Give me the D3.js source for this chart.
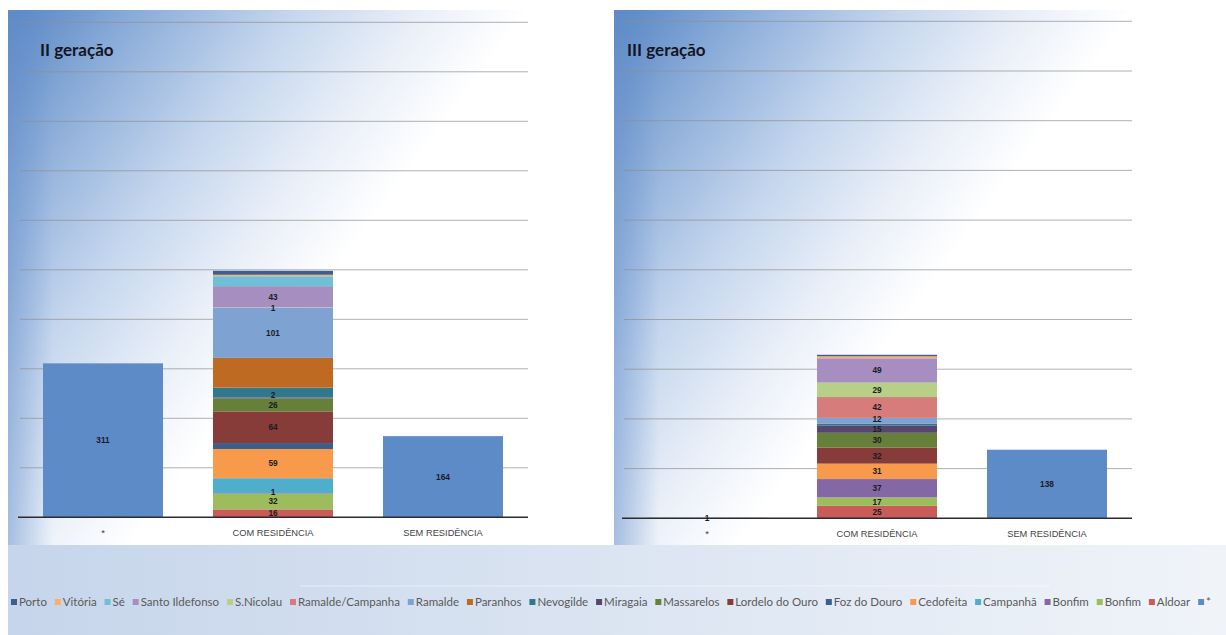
<!DOCTYPE html>
<html>
<head>
<meta charset="utf-8">
<script src="https://cdn.jsdelivr.net/npm/d3@7"></script>
<style>
  html, body { margin: 0; padding: 0; background: #ffffff; }
  svg { display: block; }
</style>
</head>
<body>
<svg id="chart" width="1226" height="635"></svg>
<script>
// ---- data ----
const categories = ["*", "COM RESIDÊNCIA", "SEM RESIDÊNCIA"];

const seriesNames = ["*", "Aldoar", "Bonfim", "Bonfim", "Campanhã", "Cedofeita",
  "Foz do Douro", "Lordelo do Ouro", "Massarelos", "Miragaia", "Nevogilde",
  "Paranhos", "Ramalde", "Ramalde/Campanha", "S.Nicolau", "Santo Ildefonso",
  "Sé", "Vitória", "Porto"];

const seriesColors = ["#5d8bc7", "#c95b58", "#9dbd5c", "#8468a6", "#4faecb", "#f79a4c",
  "#3a5e8e", "#873c3a", "#66803a", "#574770", "#32788a",
  "#bf6a23", "#7ea3d3", "#d67c7a", "#b7cf86", "#a68fc0",
  "#6fc0d6", "#f9ae70", "#3d5f8e"];

// one row per series, one value per category
const gen2Values = [
  [311, 0, 164], [0, 16, 0], [0, 32, 0], [0, 1, 0], [0, 30, 0], [0, 59, 0],
  [0, 12, 0], [0, 64, 0], [0, 26, 0], [0, 2, 0], [0, 20, 0],
  [0, 60, 0], [0, 101, 0], [0, 0, 0], [0, 1, 0], [0, 43, 0],
  [0, 20, 0], [0, 3, 0], [0, 8, 0]
];
const gen3Values = [
  [1, 0, 138], [0, 25, 0], [0, 17, 0], [0, 37, 0], [0, 0, 0], [0, 31, 0],
  [0, 0, 0], [0, 32, 0], [0, 30, 0], [0, 15, 0], [0, 3, 0],
  [0, 0, 0], [0, 12, 0], [0, 42, 0], [0, 29, 0], [0, 49, 0],
  [0, 0, 0], [0, 4, 0], [0, 3, 0]
];

// series whose data labels are switched off
const gen2HiddenLabels = [4, 6, 10, 11, 16, 17, 18];
const gen3HiddenLabels = [10, 17, 18];

const yTicks = [0, 100, 200, 300, 400, 500, 600, 700, 800, 900, 1000];

// ---- drawing ----
const svg = d3.select("#chart");
const defs = svg.append("defs");

function panelBackground(id, x0, y0, w, h) {
  const g = defs.append("linearGradient").attr("id", id)
    .attr("gradientUnits", "userSpaceOnUse")
    .attr("x1", x0).attr("y1", y0).attr("x2", x0 + 430).attr("y2", y0 + 320);
  [[0, "#5685c4"], [0.2, "#8cadd9"], [0.42, "#c3d5ed"], [0.62, "#e9eff8"], [0.78, "#ffffff"]]
    .forEach(([o, c]) => g.append("stop").attr("offset", o).attr("stop-color", c));
  const e = defs.append("linearGradient").attr("id", id + "-edge")
    .attr("gradientUnits", "userSpaceOnUse")
    .attr("x1", x0).attr("y1", 0).attr("x2", x0 + 45).attr("y2", 0);
  e.append("stop").attr("offset", 0).attr("stop-color", "#6690cc").attr("stop-opacity", 0.5);
  e.append("stop").attr("offset", 1).attr("stop-color", "#6690cc").attr("stop-opacity", 0);
  svg.append("rect").attr("x", x0).attr("y", y0).attr("width", w).attr("height", h)
    .attr("fill", `url(#${id})`);
  svg.append("rect").attr("x", x0).attr("y", y0).attr("width", 45).attr("height", h)
    .attr("fill", `url(#${id}-edge)`);
}

function drawChart(cfg) {
  panelBackground(cfg.id, cfg.panelX, 10, cfg.panelW, 535);
  const g = svg.append("g");

  const x = d3.scaleBand().domain(categories).range(cfg.xRange)
    .paddingInner(0.294).paddingOuter(0.147);
  const y = d3.scaleLinear().domain([0, 1000]).range(cfg.yRange);

  // horizontal gridlines
  g.append("g").selectAll("line").data(yTicks.filter(t => t > 0)).join("line")
    .attr("x1", cfg.xRange[0] + 2).attr("x2", cfg.xRange[1])
    .attr("y1", d => y(d)).attr("y2", d => y(d))
    .attr("stroke", "#8f8f8f").attr("stroke-opacity", 0.7).attr("stroke-width", 1);

  // stacked columns
  const rows = categories.map((c, ci) => ({ cat: c, vals: cfg.values.map(s => s[ci]) }));
  const stack = d3.stack().keys(d3.range(seriesNames.length)).value((r, k) => r.vals[k]);
  const layers = stack(rows);

  const layerG = g.append("g").selectAll("g").data(layers).join("g")
    .attr("fill", d => seriesColors[d.key]);
  layerG.selectAll("rect").data(d => d.map(p => ({ p, key: d.key })).filter(o => o.p[1] > o.p[0]))
    .join("rect")
    .attr("x", o => x(o.p.data.cat))
    .attr("width", x.bandwidth())
    .attr("y", o => y(o.p[1]))
    .attr("height", o => y(o.p[0]) - y(o.p[1]));

  // category axis
  const axis = g.append("g").attr("transform", `translate(0,${cfg.yRange[0]})`)
    .call(d3.axisBottom(x).tickSize(0).tickPadding(12));
  axis.select(".domain").attr("stroke", "#2b2b2b").attr("stroke-width", 1.6)
    .attr("d", `M${cfg.xRange[0]},0H${cfg.xRange[1]}`);
  axis.selectAll("text").attr("font-family", "'Liberation Sans', Arial, sans-serif")
    .attr("font-size", 9.3).attr("fill", "#444");

  // data labels, centred in their segment; crowded ones are nudged upward
  const labels = [];
  layers.forEach(layer => {
    if (cfg.hidden.includes(layer.key)) return;
    layer.forEach(p => {
      const v = p[1] - p[0];
      if (v > 0) labels.push({ v, cat: p.data.cat, cx: x(p.data.cat) + x.bandwidth() / 2, cy: y((p[0] + p[1]) / 2) });
    });
  });
  const minGap = 9.6;
  categories.forEach(c => {
    const col = labels.filter(l => l.cat === c).sort((a, b) => b.cy - a.cy);
    for (let i = 1; i < col.length; i++) {
      if (col[i].cy > col[i - 1].cy - minGap) col[i].cy = col[i - 1].cy - minGap;
    }
  });
  g.append("g").selectAll("text").data(labels).join("text")
    .attr("x", d => d.cx).attr("y", d => d.cy).attr("dy", "0.35em")
    .attr("text-anchor", "middle")
    .attr("font-family", "'Liberation Sans', Arial, sans-serif")
    .attr("font-weight", "bold").attr("font-size", 8.3)
    .attr("fill", "#1b1b24")
    .text(d => d.v);

  // title
  g.append("text").attr("x", cfg.titleX).attr("y", 56)
    .attr("font-family", "Lato, 'Open Sans', sans-serif").attr("font-weight", "bold")
    .attr("font-size", 17).attr("fill", "#151522").text(cfg.title);
}

drawChart({ id: "bg2", panelX: 8, panelW: 604, xRange: [18, 528], yRange: [517.3, 22.3],
  values: gen2Values, hidden: gen2HiddenLabels, title: "II geração", titleX: 40 });
drawChart({ id: "bg3", panelX: 614, panelW: 606, xRange: [622, 1132], yRange: [518.3, 21.3],
  values: gen3Values, hidden: gen3HiddenLabels, title: "III geração", titleX: 627 });

// ---- legend strip ----
const lg = defs.append("linearGradient").attr("id", "legendBg");
[[0, "#c6d5eb"], [0.45, "#d9e3f1"], [1, "#f0f4f9"]]
  .forEach(([o, c]) => lg.append("stop").attr("offset", o).attr("stop-color", c));
svg.append("rect").attr("x", 8).attr("y", 545).attr("width", 1218).attr("height", 90)
  .attr("fill", "url(#legendBg)");
svg.append("line").attr("x1", 300).attr("x2", 1050).attr("y1", 586).attr("y2", 586)
  .attr("stroke", "#ffffff").attr("stroke-opacity", 0.5);

// legend lists the series in reverse stacking order
const legendOrder = d3.range(seriesNames.length).reverse();
const legend = svg.append("g");
const items = legend.selectAll("g").data(legendOrder).join("g");
items.append("rect").attr("width", 6).attr("height", 6).attr("y", 599)
  .attr("fill", d => seriesColors[d]);
items.append("text").attr("x", 8).attr("y", 606)
  .attr("font-family", "Lato, 'Open Sans', sans-serif").attr("font-size", 11.5)
  .attr("fill", "#5a5a5a").text(d => seriesNames[d]);

const widths = [];
items.each(function () { widths.push(8 + d3.select(this).select("text").node().getComputedTextLength()); });
const startX = 11, endX = 1211;
const gap = (endX - startX - d3.sum(widths)) / (widths.length - 1);
let cursor = startX;
items.each(function (d, i) {
  d3.select(this).attr("transform", `translate(${cursor},0)`);
  cursor += widths[i] + gap;
});
</script>
</body>
</html>
